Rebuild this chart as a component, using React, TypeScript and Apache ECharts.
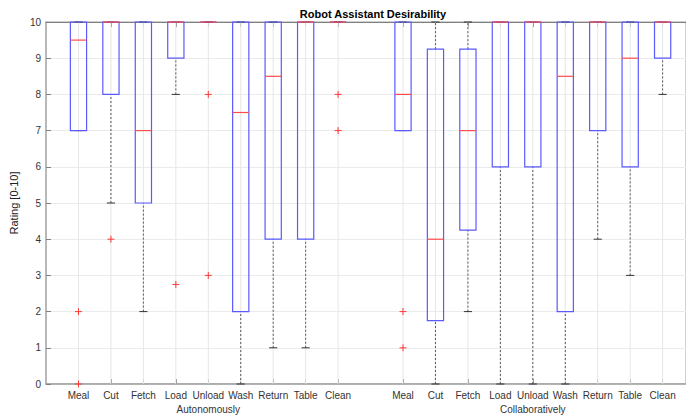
import React, { useEffect, useRef } from "react";
import * as echarts from "echarts";

const categories = ["Meal", "Cut", "Fetch", "Load", "Unload", "Wash", "Return", "Table", "Clean"];
const groups = ["Autonomously", "Collaboratively"];
const groupOffsets = [0, 10];

// [lower whisker, Q1, median, Q3, upper whisker]
const autoStats: number[][] = [
  [7, 7, 9.5, 10, 10],
  [5, 8, 10, 10, 10],
  [2, 5, 7, 10, 10],
  [8, 9, 10, 10, 10],
  [10, 10, 10, 10, 10],
  [0, 2, 7.5, 10, 10],
  [1, 4, 8.5, 10, 10],
  [1, 4, 10, 10, 10],
  [10, 10, 10, 10, 10],
];
const collabStats: number[][] = [
  [7, 7, 8, 10, 10],
  [0, 1.75, 4, 9.25, 10],
  [2, 4.25, 7, 9.25, 10],
  [0, 6, 10, 10, 10],
  [0, 6, 10, 10, 10],
  [0, 2, 8.5, 10, 10],
  [4, 7, 10, 10, 10],
  [3, 6, 9, 10, 10],
  [8, 9, 10, 10, 10],
];
const autoOutliers: number[][] = [[2, 0], [4], [], [2.75], [8, 3], [], [], [], [8, 7]];
const collabOutliers: number[][] = [[2, 1], [], [], [], [], [], [], [], []];

const yTicks = [0, 1, 2, 3, 4, 5, 6, 7, 8, 9, 10];

const FONT = "'Liberation Sans', Arial, Helvetica, sans-serif";

export default function App() {
  const ref = useRef<HTMLDivElement>(null);
  useEffect(() => {
    if (!ref.current) return;
    const chart = echarts.init(ref.current, undefined, { renderer: "svg" });

    const positions: number[] = [];
    const labelMap: Record<number, string> = {};
    const boxData: number[][] = [];
    const outData: number[][] = [];
    const allStats = [autoStats, collabStats];
    const allOut = [autoOutliers, collabOutliers];
    groupOffsets.forEach((off, g) => {
      categories.forEach((c, i) => {
        const pos = off + i + 1;
        positions.push(pos);
        labelMap[pos] = c;
        boxData.push([pos, ...allStats[g][i]]);
        allOut[g][i].forEach((v) => outData.push([pos, v]));
      });
    });
    const groupCenters = groupOffsets.map((off) => off + (categories.length + 1) / 2);
    const groupMap: Record<number, string> = {};
    groupCenters.forEach((c, g) => (groupMap[c] = groups[g]));

    const XMAX = 19.72;

    const option: any = {
      animation: false,
      title: {
        text: "Robot Assistant Desirability",
        left: 368,
        textAlign: "center",
        top: 3,
        padding: 5,
        textStyle: { fontFamily: FONT, fontSize: 11, fontWeight: "bold", color: "#000" },
      },
      grid: {
        left: 40,
        right: 0,
        top: 22,
        bottom: 31,
        show: true,
        borderColor: "#a0a0a0",
        borderWidth: 1,
        backgroundColor: "#fff",
      },
      xAxis: [
        {
          type: "value",
          min: 0,
          max: XMAX,
          position: "bottom",
          axisLine: { show: true, lineStyle: { color: "#a0a0a0", width: 1.5 } },
          axisTick: {
            show: true,
            inside: true,
            length: 5,
            customValues: positions,
            lineStyle: { color: "#808080" },
          },
          splitLine: { show: false },
          axisLabel: {
            customValues: positions,
            formatter: (v: number) => labelMap[Math.round(v)] || "",
            fontFamily: FONT,
            fontSize: 10,
            color: "#333",
            margin: 6,
            showMinLabel: true,
            showMaxLabel: true,
          },
        },
        {
          type: "value",
          min: 0,
          max: XMAX,
          position: "bottom",
          offset: 14,
          axisLine: { show: false },
          axisTick: { show: false },
          splitLine: { show: false },
          axisLabel: {
            customValues: groupCenters,
            formatter: (v: number) => groupMap[v] || "",
            fontFamily: FONT,
            fontSize: 10,
            color: "#333",
            margin: 6,
          },
        },
        {
          type: "value",
          min: 0,
          max: XMAX,
          position: "top",
          axisLine: { show: true, lineStyle: { color: "#808080", width: 1 } },
          axisTick: {
            show: true,
            inside: true,
            length: 5,
            customValues: positions,
            lineStyle: { color: "#808080" },
          },
          splitLine: { show: false },
          axisLabel: { show: false },
        },
      ],
      yAxis: {
        type: "value",
        min: 0,
        max: 10,
        interval: 1,
        name: "Rating [0-10]",
        nameLocation: "middle",
        nameGap: 22,
        nameTextStyle: { fontFamily: FONT, fontSize: 11, color: "#222" },
        axisLine: { show: true, lineStyle: { color: "#b0b0b0", width: 1.5 } },
        axisTick: { show: true, inside: true, length: 5, lineStyle: { color: "#808080" } },
        splitLine: { show: true, lineStyle: { color: "#ebebeb", width: 1 } },
        axisLabel: {
          fontFamily: FONT,
          fontSize: 10,
          color: "#333",
          margin: 5,
          customValues: yTicks,
        },
      },
      series: [
        {
          type: "custom",
          name: "boxes",
          xAxisIndex: 0,
          yAxisIndex: 0,
          data: boxData,
          encode: { x: 0, y: [1, 2, 3, 4, 5] },
          renderItem: (params: any, api: any) => {
            const x = api.value(0);
            const lo = api.value(1);
            const q1 = api.value(2);
            const med = api.value(3);
            const q3 = api.value(4);
            const hi = api.value(5);
            const hw = 0.25;
            const cw = 0.125;
            const p = (a: number, b: number) => api.coord([a, b]);
            const line = (a: number[], b: number[], style: any) => ({
              type: "line",
              shape: { x1: a[0], y1: a[1], x2: b[0], y2: b[1] },
              style,
            });
            const grid = { stroke: "#e6e6e6", lineWidth: 1 };
            const dash = { stroke: "#333", lineWidth: 0.8, lineDash: [2, 2] };
            const cap = { stroke: "#333", lineWidth: 1 };
            const tl = p(x - hw, q3);
            const br = p(x + hw, q1);
            return {
              type: "group",
              children: [
                line(p(x, 0), p(x, 10), grid),
                line(p(x, q3), p(x, hi), dash),
                line(p(x, lo), p(x, q1), dash),
                line(p(x - cw, hi), p(x + cw, hi), cap),
                line(p(x - cw, lo), p(x + cw, lo), cap),
                {
                  type: "rect",
                  shape: { x: tl[0], y: tl[1], width: br[0] - tl[0], height: br[1] - tl[1] },
                  style: { fill: "none", stroke: "#5a5aff", lineWidth: 1.2 },
                },
                line(p(x - hw, med), p(x + hw, med), { stroke: "#ff4c4c", lineWidth: 1.2 }),
              ],
            };
          },
          z: 2,
        },
        {
          type: "custom",
          name: "outliers",
          xAxisIndex: 0,
          yAxisIndex: 0,
          data: outData,
          encode: { x: 0, y: 1 },
          renderItem: (params: any, api: any) => {
            const c = api.coord([api.value(0), api.value(1)]);
            const s = 3.5;
            const st = { stroke: "#ff3838", lineWidth: 1 };
            return {
              type: "group",
              children: [
                { type: "line", shape: { x1: c[0] - s, y1: c[1], x2: c[0] + s, y2: c[1] }, style: st },
                { type: "line", shape: { x1: c[0], y1: c[1] - s, x2: c[0], y2: c[1] + s }, style: st },
              ],
            };
          },
          z: 3,
        },
      ],
    };
    chart.setOption(option);
    return () => chart.dispose();
  }, []);
  return (
    <div
      ref={ref}
      style={{ position: "fixed", left: 0, top: 0, width: 686, height: 415, background: "#fff" }}
    />
  );
}
